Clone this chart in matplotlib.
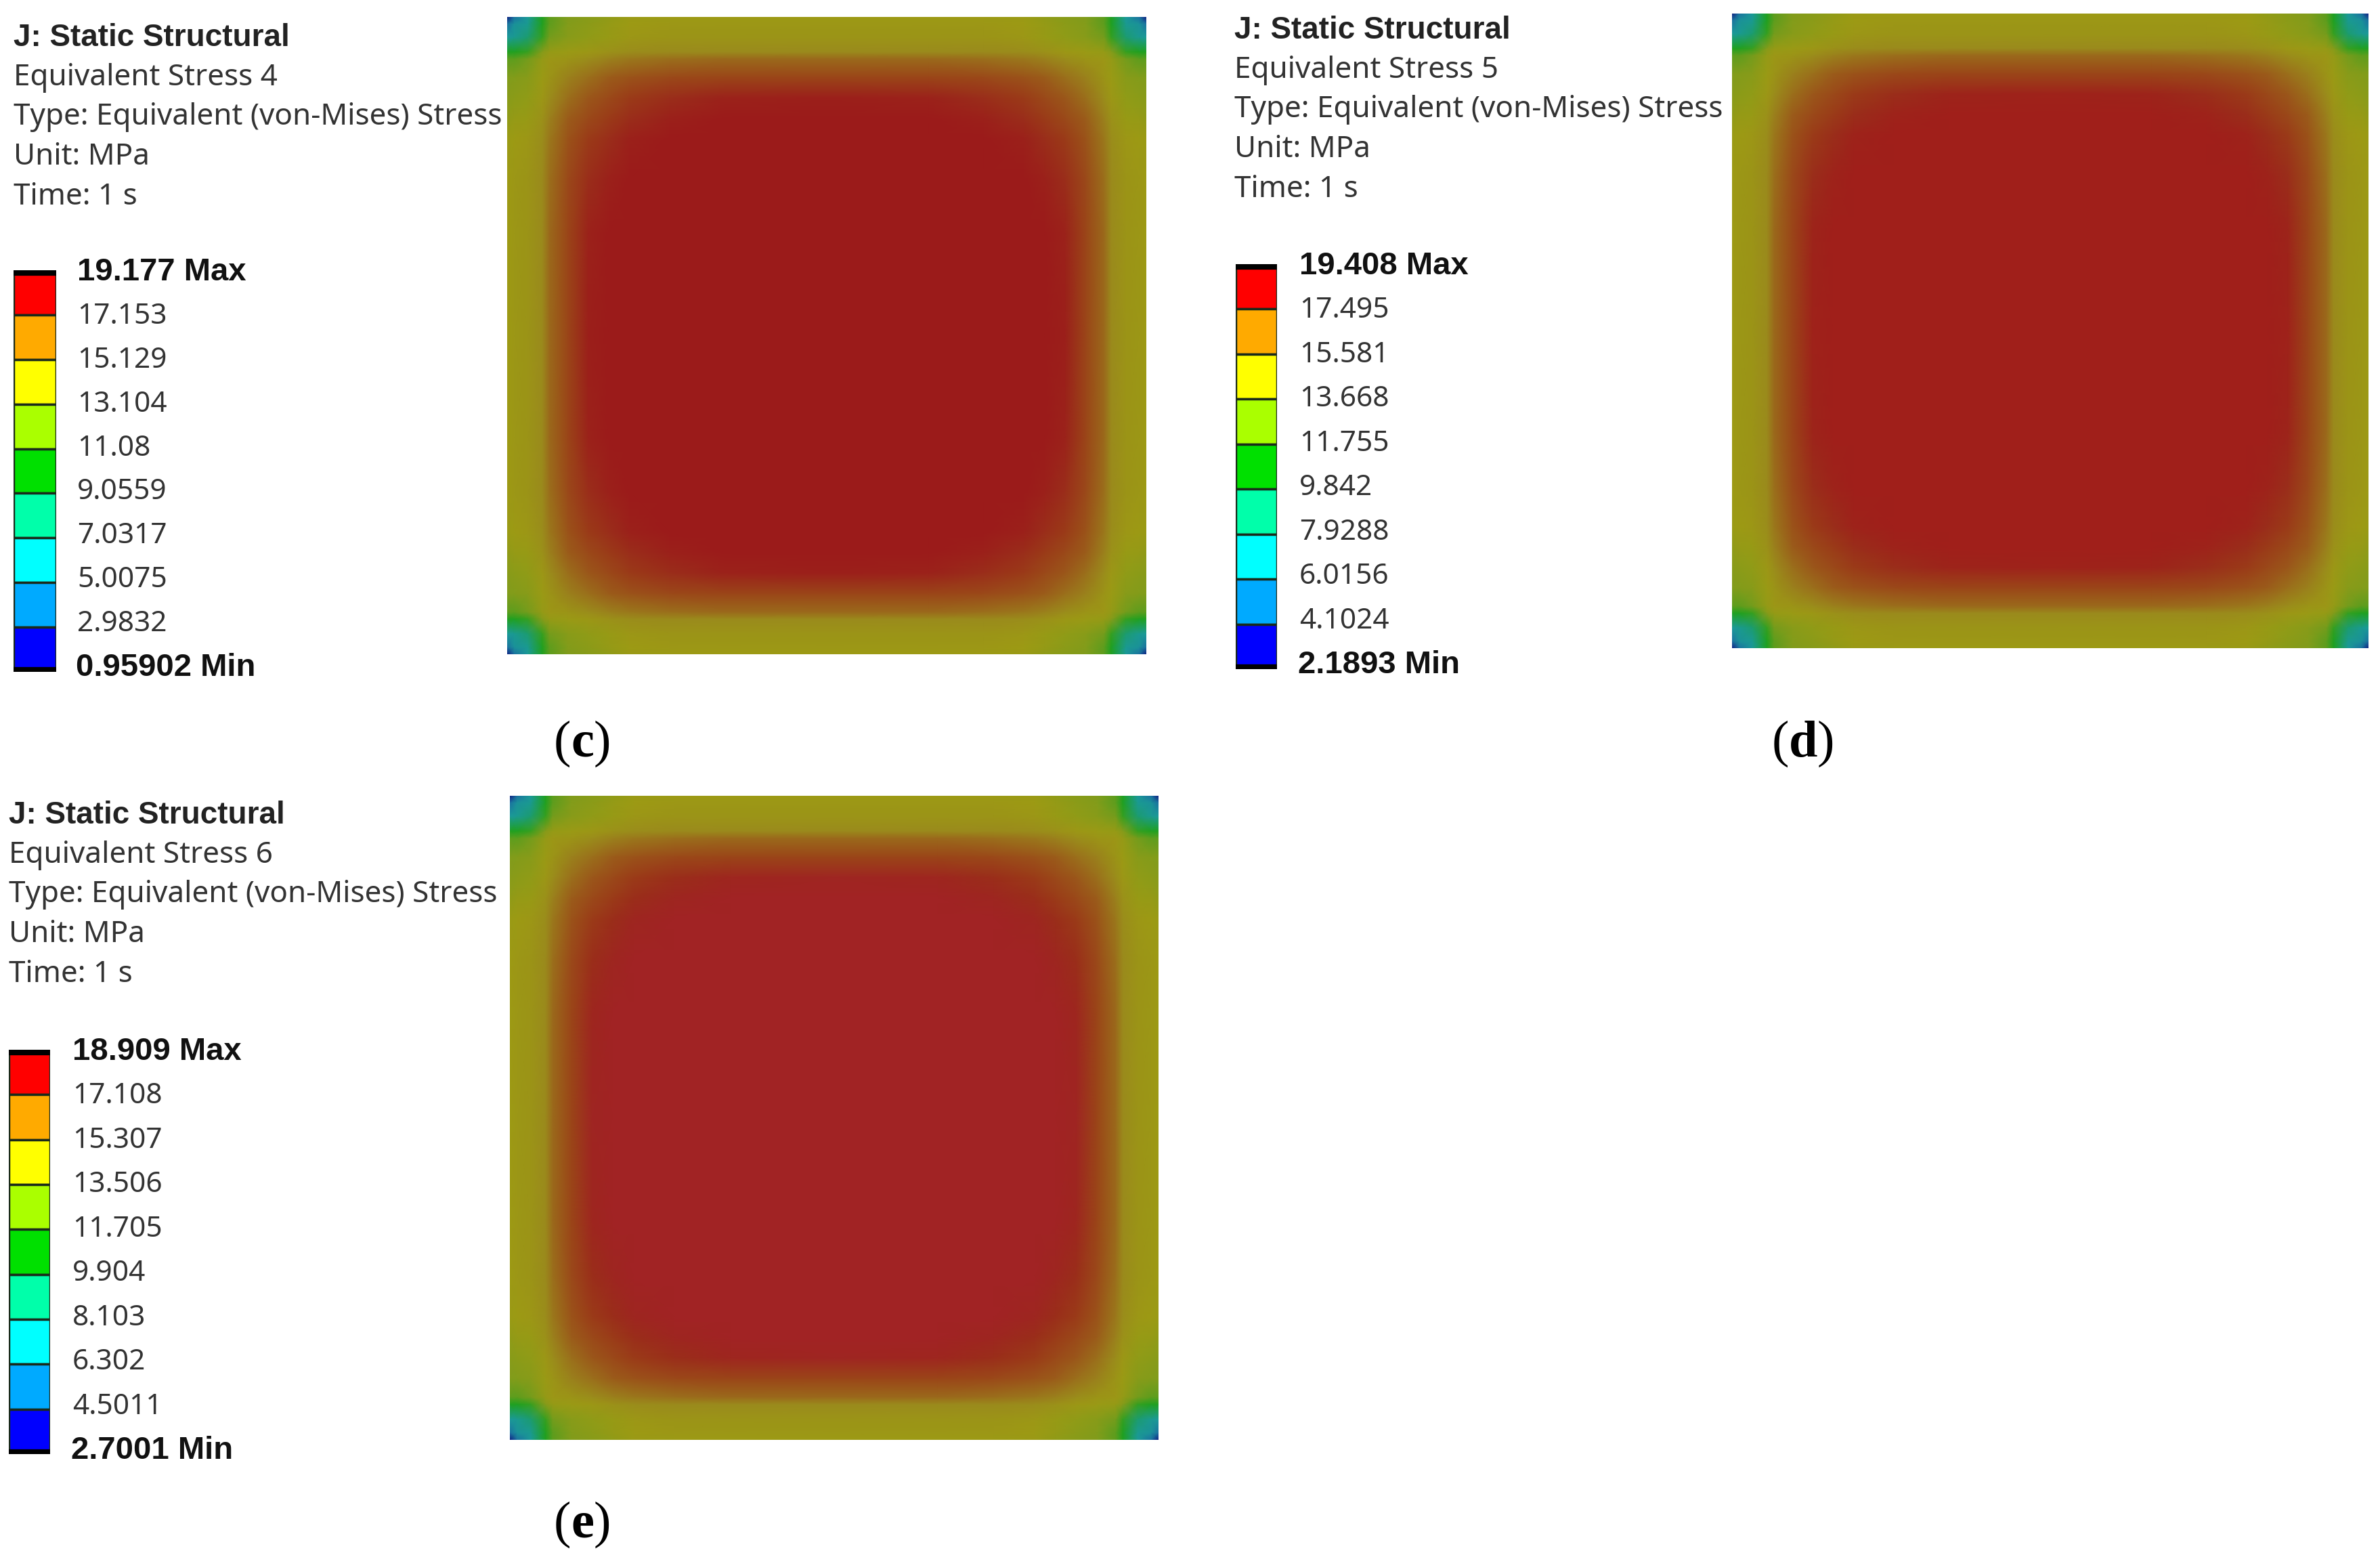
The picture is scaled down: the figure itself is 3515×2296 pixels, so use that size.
import numpy as np
import matplotlib
matplotlib.use("Agg")
import matplotlib.pyplot as plt
from matplotlib.colors import LinearSegmentedColormap

W, H = 3516, 2296
FONT = "Noto Sans"
BOLD_FONT = "Liberation Sans"
SERIF = "Liberation Serif"

# stress labels as shown in each legend, top to bottom
labels_c = ["19.177", "17.153", "15.129", "13.104", "11.08", "9.0559", "7.0317", "5.0075", "2.9832", "0.95902"]
labels_d = ["19.408", "17.495", "15.581", "13.668", "11.755", "9.842", "7.9288", "6.0156", "4.1024", "2.1893"]
labels_e = ["18.909", "17.108", "15.307", "13.506", "11.705", "9.904", "8.103", "6.302", "4.5011", "2.7001"]

band_colors = ["#ff0000", "#ffaa00", "#ffff00", "#aaff00", "#00e000",
               "#00ffaa", "#00ffff", "#00aaff", "#0000ff"]

# quarter of the contour plot: distance from the edges
# (fraction of the panel side) and relative stress level at those distances
edge_dist = [0, 0.011, 0.032, 0.055, 0.066, 0.095, 0.127, 0.159, 0.191, 0.254, 0.34, 0.5]
quarter = [
    [0.00, 0.10, 0.15, 0.30, 0.38, 0.44, 0.47, 0.50, 0.54, 0.55, 0.55, 0.55],
    [0.10, 0.14, 0.16, 0.30, 0.38, 0.45, 0.48, 0.52, 0.55, 0.56, 0.56, 0.56],
    [0.15, 0.16, 0.20, 0.33, 0.41, 0.47, 0.50, 0.53, 0.56, 0.57, 0.57, 0.57],
    [0.30, 0.30, 0.33, 0.46, 0.52, 0.54, 0.56, 0.58, 0.59, 0.60, 0.60, 0.60],
    [0.38, 0.38, 0.41, 0.52, 0.56, 0.57, 0.59, 0.62, 0.64, 0.66, 0.67, 0.67],
    [0.44, 0.45, 0.47, 0.54, 0.57, 0.62, 0.66, 0.70, 0.74, 0.78, 0.80, 0.80],
    [0.47, 0.48, 0.50, 0.56, 0.59, 0.66, 0.72, 0.78, 0.84, 0.90, 0.96, 0.98],
    [0.50, 0.52, 0.53, 0.58, 0.62, 0.70, 0.78, 0.84, 0.90, 0.97, 1.00, 1.00],
    [0.54, 0.55, 0.56, 0.59, 0.64, 0.74, 0.84, 0.90, 0.97, 1.00, 1.00, 1.00],
    [0.55, 0.56, 0.57, 0.60, 0.66, 0.78, 0.90, 0.97, 1.00, 1.00, 1.00, 1.00],
    [0.55, 0.56, 0.57, 0.60, 0.67, 0.80, 0.96, 1.00, 1.00, 1.00, 1.00, 1.00],
    [0.55, 0.56, 0.57, 0.60, 0.67, 0.80, 0.98, 1.00, 1.00, 1.00, 1.00, 1.00],
]

field_stops = [(0.0, "#101a80"), (0.10, "#1a70a0"), (0.15, "#1a9a98"), (0.30, "#20a020"),
               (0.42, "#7c9c1c"), (0.55, "#9c9a14"), (0.60, "#9a8a1c"), (0.70, "#9a5c1a"),
               (0.82, "#9a4018"), (0.92, "#9a2a1a")]


def px_axes(fig, x0, y0, x1, y1):
    # axes from pixel box, y measured from the top of the image
    ax = fig.add_axes([x0 / W, 1 - y1 / H, (x1 - x0) / W, (y1 - y0) / H])
    ax.set_axis_off()
    return ax


def px_text(fig, x, y, s, **kw):
    fig.text(x / W, 1 - y / H, s, va="center", ha="left", **kw)


def draw_field(fig, box, peak):
    ax = px_axes(fig, *box)
    d = np.array(edge_dist)
    q = np.array(quarter)
    coords = np.concatenate([d, 1 - d[-2::-1]])
    top = np.hstack([q, q[:, -2::-1]])
    full = np.vstack([top, top[-2::-1]])
    cmap = LinearSegmentedColormap.from_list("field", field_stops + [(1.0, peak)], N=512)
    ax.pcolormesh(coords, coords, full, shading="gouraud", cmap=cmap, vmin=0, vmax=1)
    ax.set_xlim(0, 1)
    ax.set_ylim(1, 0)


def draw_legend(fig, x0, bar_w, y_top, y_bot, y_first, y_last, labels):
    values = np.array([float(s) for s in labels])
    ax = px_axes(fig, x0, y_top, x0 + bar_w, y_bot)
    # bands are evenly spaced, so the value axis is linear
    ax.bar(np.full(len(band_colors), 0.5), values[:-1] - values[1:], width=1, bottom=values[1:],
           color=band_colors, edgecolor="#1a2a1a", linewidth=2.5)
    ax.axhline(values[0], color="black", linewidth=11)
    ax.axhline(values[-1], color="black", linewidth=11)
    ax.set_xlim(0, 1)
    ax.set_ylim(values[-1], values[0])
    ys = np.linspace(y_first, y_last, len(labels))
    lx = x0 + 94
    for i, (s, y) in enumerate(zip(labels, ys)):
        if i == 0:
            px_text(fig, lx, y, s + " Max", fontsize=34, fontweight="bold", family=BOLD_FONT, color="#111111")
        elif i == len(labels) - 1:
            px_text(fig, lx - 2, y, s + " Min", fontsize=34, fontweight="bold", family=BOLD_FONT, color="#111111")
        else:
            px_text(fig, lx, y, s, fontsize=30.5, family=FONT, color="#333333")


def draw_header(fig, x, y0, name):
    lines = ["J: Static Structural", name, "Type: Equivalent (von-Mises) Stress", "Unit: MPa", "Time: 1 s"]
    for i, s in enumerate(lines):
        if i == 0:
            px_text(fig, x, y0, s, fontsize=33, fontweight="bold", family=BOLD_FONT, color="#222222")
        else:
            px_text(fig, x, y0 + i * 58.7, s, fontsize=31.7, family=FONT, color="#333333")


def draw_caption(fig, x, y, letter, letter_w):
    px_text(fig, x, y, "(", fontsize=55, family=SERIF)
    px_text(fig, x + 25, y, letter, fontsize=55, fontweight="bold", family=SERIF)
    px_text(fig, x + 25 + letter_w, y, ")", fontsize=55, family=SERIF)


fig = plt.figure(figsize=(W / 100, H / 100), dpi=100, facecolor="white")

draw_field(fig, (749, 25, 1693, 966), "#9b1b1a")
draw_header(fig, 20, 56, "Equivalent Stress 4")
draw_legend(fig, 20, 63, 399, 992, 402, 986, labels_c)
draw_caption(fig, 818, 1098, "c", 34)

draw_field(fig, (2558, 20, 3498, 957), "#a01f1a")
draw_header(fig, 1823, 45, "Equivalent Stress 5")
draw_legend(fig, 1825, 61, 390, 988, 393, 982, labels_d)
draw_caption(fig, 2617, 1098, "d", 42)

draw_field(fig, (753, 1175, 1711, 2126), "#a12324")
draw_header(fig, 13, 1204, "Equivalent Stress 6")
draw_legend(fig, 13, 61, 1550, 2147, 1553, 2142, labels_e)
draw_caption(fig, 818, 2251, "e", 34)

fig.savefig("out.png", dpi=100)
